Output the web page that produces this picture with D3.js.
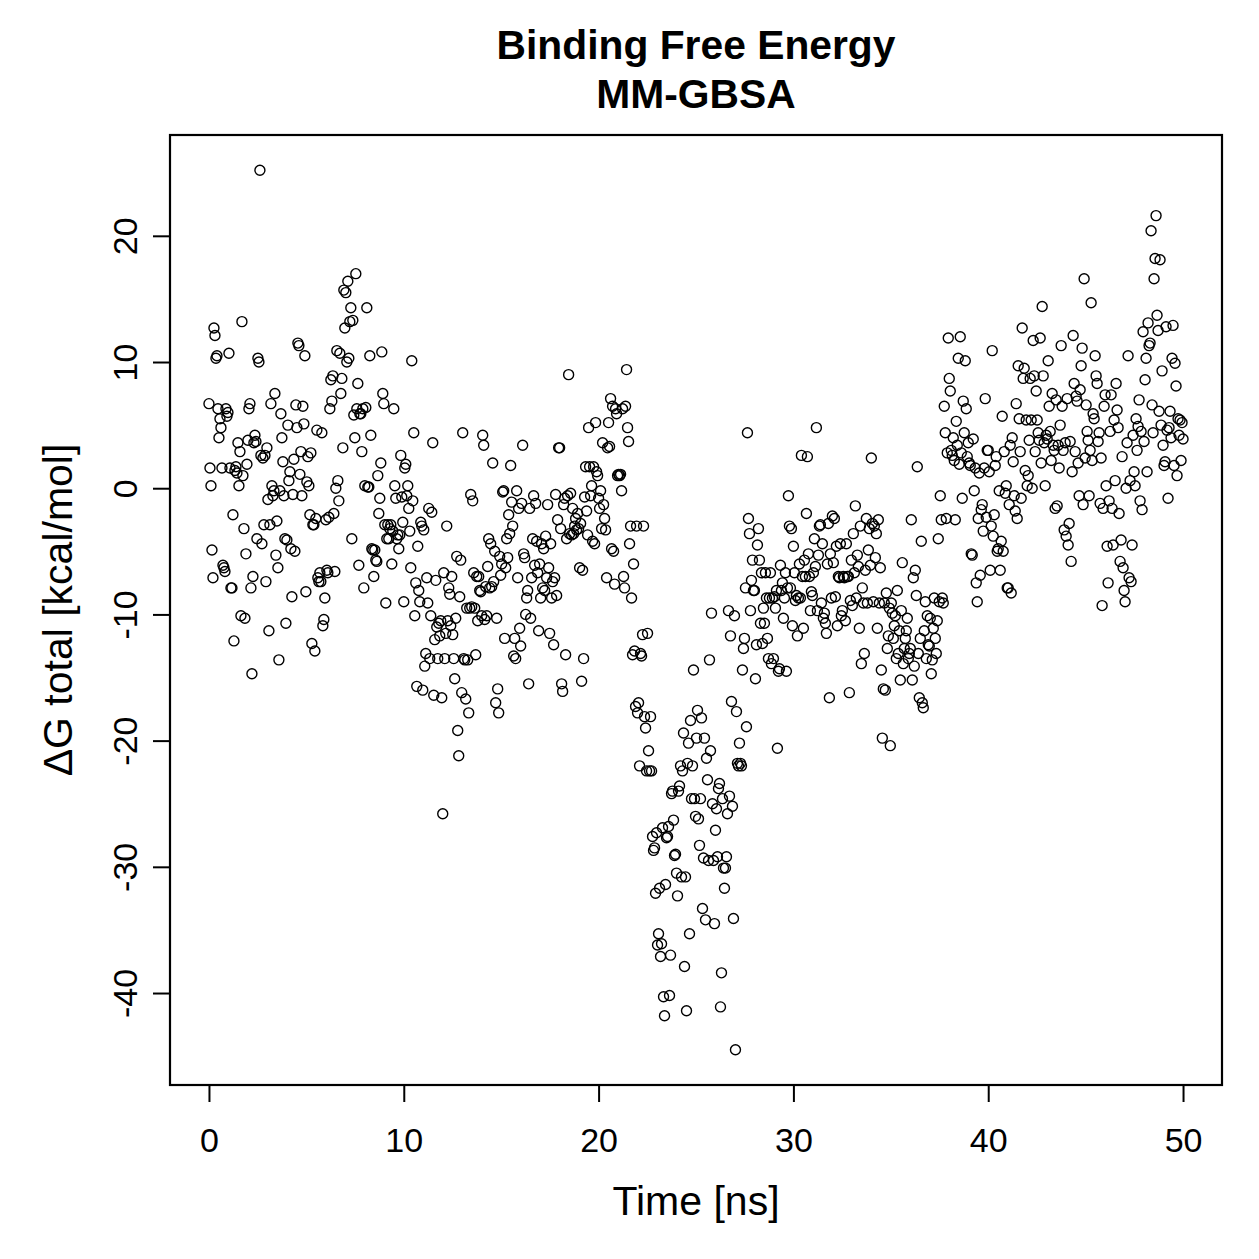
<!DOCTYPE html>
<html>
<head>
<meta charset="utf-8">
<script src="https://cdn.jsdelivr.net/npm/d3@7"></script>
<style>
  body { margin: 0; background: #fff; }
  text { font-family: "Liberation Sans", Arial, Helvetica, sans-serif; fill: #000; }
</style>
</head>
<body>
<svg id="chart" width="1259" height="1259"></svg>
<script>
// Chart text
let titleLines = ['Binding Free Energy', 'MM-GBSA'];
let xLabel = 'Time [ns]';
let yLabel = '\u0394G total [kcal/mol]';
let xTicks = [0, 10, 20, 30, 40, 50];
let yTicks = [-40, -30, -20, -10, 0, 10, 20];

// Simulation time window (ns), frames are evenly spaced over it
let timeStart = 0;
let timeEnd = 50;

// Delta G total per frame (kcal/mol), in time order
let dG = [
  6.7, 1.6, 0.2, -4.9, -7.1, 12.7, 12.1, 10.3, 10.5, 6.3, 4.0, 5.5, 4.8, 1.6, -6.1, -6.3, -6.6, 6.3, 5.7, 6.0,
  10.7, 1.6, -7.9, -7.9, -2.1, -12.1, 1.4, 1.7, 1.2, 3.6, 0.2, 2.9, -10.1, 13.2, 1.0, -3.2, -10.3, -5.2, 1.9, 3.8,
  6.3, 6.7, -7.9, -14.7, -7.0, 3.6, 4.2, 3.7, -4.0, 10.3, 10.0, 25.2, 2.6, -4.4, 2.4, -2.9, 2.6, -7.4, 3.2, -0.9,
  -11.3, -2.9, 6.7, 0.2, -0.6, -0.2, 7.5, -5.3, -2.6, -6.3, -13.6, -0.2, 5.9, 4.0, 2.1, -0.6, -4.0, -10.7, -4.1, 5.0,
  0.6, 1.3, -4.8, -8.6, -0.5, 2.3, -5.0, 6.6, 4.8, 11.5, 11.3, 1.1, 2.9, -0.6, 6.5, 5.1, 10.5, -8.2, 0.5, 2.5,
  0.2, -2.1, 2.8, -12.3, -2.9, -2.9, -12.9, -2.4, 4.6, -7.1, -7.4, -6.7, -7.4, 4.4, -10.9, -10.4, -8.7, -2.5, -6.5, -6.7,
  -2.3, 6.3, 8.6, 6.9, 8.9, -2.0, -6.6, 0.0, 10.9, 0.6, -1.0, 10.7, 7.5, 8.7, 3.2, 15.7, 12.7, 15.5, 10.0, 16.4,
  10.3, 13.2, 14.3, -4.0, 13.3, 5.8, 4.0, 17.0, 6.3, 8.3, -6.1, 5.9, 5.9, 2.9, 6.3, -7.9, 0.2, 6.4, 14.3, 0.1,
  0.1, 10.5, 4.2, -4.8, -4.9, -7.0, -4.9, -5.7, -5.8, 1.0, -2.0, -0.8, 2.0, 10.8, 7.5, 6.7, -2.9, -9.1, -4.0, -2.9,
  -4.0, -3.2, -2.9, -6.0, -3.4, 6.3, 0.2, -0.8, -4.0, -3.7, -4.8, -3.7, 2.6, -0.7, -2.7, -9.0, 1.6, 1.9, -0.6, 0.2,
  -1.6, -3.4, -6.3, 10.1, -1.0, 4.4, -10.1, -7.5, -15.7, -4.6, -8.1, -9.0, -2.7, -3.0, -16.0, -3.3, -14.1, -13.1, -7.1, -9.1,
  -1.6, -13.5, -10.1, -1.9, 3.6, -16.4, -12.0, -7.3, -11.0, -13.5, -10.7, -11.7, -10.5, -16.6, -25.8, -6.7, -13.5, -11.5, -3.0, -10.5,
  -7.9, -8.4, -10.9, -7.0, -11.6, -13.5, -15.1, -10.3, -5.4, -19.2, -21.2, -8.6, -5.7, -16.2, 4.4, -13.5, -13.6, -16.7, -9.5, -13.6,
  -17.8, -9.5, -0.5, -9.4, -1.0, -6.7, -9.5, -13.2, -7.0, -10.5, -7.0, -8.1, -8.2, -10.1, 4.2, 3.4, -10.4, -7.8, -10.1, -6.2,
  -4.0, -7.9, -4.4, -7.8, 2.0, -7.4, -5.0, -17.0, -10.3, -15.9, -17.8, -5.4, -6.9, -6.0, -0.3, -0.2, -11.9, -6.3, -4.0, -5.5,
  -2.1, -3.6, 1.8, -1.1, -3.0, -13.3, -11.9, -13.5, -0.2, -7.1, -1.6, -11.1, -12.5, -1.2, 3.4, -5.2, -5.5, -10.0, -8.7, -8.1,
  -15.5, -1.6, -10.3, -7.1, -4.0, -0.6, -6.1, -1.2, -4.2, -6.7, -11.3, -6.0, -8.7, -4.4, -7.9, -4.8, -8.1, -3.8, -7.1, -1.3,
  -6.3, -11.5, -4.4, -8.7, -7.4, -12.4, -7.1, -0.5, -8.5, -2.5, 3.2, 3.2, -3.2, -15.5, -16.1, -1.3, -0.8, -13.2, -4.0, -0.6,
  9.0, -3.6, -0.4, -3.7, -1.6, -3.6, -3.0, -2.4, -3.3, -2.0, -3.2, -6.3, -2.8, -15.3, -6.5, -13.5, -0.7, 1.7, -1.8, -3.7,
  4.8, 1.7, -0.6, 0.2, -4.2, 1.7, -4.4, 5.2, 1.3, 1.0, -0.8, -1.6, -0.2, -3.2, 3.6, -1.3, -2.4, -3.3, -7.1, 3.2,
  5.2, 3.3, 7.1, -4.8, 6.5, -5.0, -7.6, 6.3, 5.9, 1.0, 1.1, 1.0, 1.1, -0.2, 6.3, -7.0, -7.9, 6.5, 9.4, 4.8,
  3.7, -4.4, -3.0, -8.7, -13.2, -6.0, -12.9, -17.3, -3.0, -17.8, -17.0, -22.0, -13.1, -13.3, -11.6, -3.0, -18.1, -19.0, -22.4, -11.5,
  -20.8, -22.4, -18.1, -22.4, -27.6, -28.7, -28.5, -32.1, -27.3, -36.2, -35.3, -31.7, -37.1, -36.1, -26.9, -40.3, -41.8, -31.4, -27.7, -27.6,
  -26.8, -40.2, -37.0, -24.2, -24.0, -26.3, -29.1, -29.0, -30.5, -32.3, -24.0, -23.6, -22.0, -30.8, -22.4, -19.4, -37.9, -30.8, -41.4, -21.8,
  -20.2, -35.3, -18.4, -24.6, -22.0, -14.4, -24.6, -26.0, -19.8, -17.6, -26.2, -28.3, -24.6, -18.2, -33.3, -29.3, -19.8, -34.2, -21.4, -23.1,
  -29.5, -13.6, -20.8, -9.9, -25.0, -29.5, -34.5, -27.1, -25.4, -29.2, -23.8, -23.4, -41.1, -38.4, -24.6, -30.1, -31.7, -30.1, -29.2, -25.8,
  -9.7, -24.4, -11.7, -16.9, -25.2, -34.1, -10.1, -44.5, -17.7, -21.8, -22.0, -20.2, -21.8, -22.0, -14.4, -12.7, -11.9, -7.9, -18.9, 4.4,
  -2.4, -3.6, -9.7, -7.3, -5.7, -8.1, -8.1, -15.1, -12.4, -4.5, -3.2, -5.7, -10.7, -6.7, -12.3, -9.5, -10.7, -6.7, -8.7, -11.9,
  -13.5, -8.7, -6.7, -13.9, -8.7, -13.5, -8.6, -9.5, -8.1, -20.6, -14.5, -14.3, -6.1, -8.1, -7.5, -10.3, -8.7, -6.7, -14.5, -7.9,
  -0.6, -3.0, -7.9, -3.2, -10.9, -4.6, -6.7, -8.9, -8.5, -11.7, -8.7, -6.0, -8.7, 2.6, -7.0, -11.1, -5.7, -7.0, -2.0, 2.5,
  -5.2, -7.0, -9.7, -8.2, -8.5, -6.7, -4.0, -6.2, 4.8, -9.7, -5.3, -3.0, -2.9, -9.1, -4.4, -10.3, -9.9, -10.7, -11.5, -6.0,
  -2.8, -16.6, -5.2, -8.7, -2.2, -5.9, -2.4, -8.6, -4.6, -10.9, -7.0, -7.1, -4.4, -10.1, -9.7, -7.0, -7.1, -10.5, -4.4, -7.0,
  -7.0, -16.2, -8.9, -5.7, -9.3, -3.6, -6.7, -1.4, -8.7, -5.3, -6.2, -11.1, -3.0, -13.9, -7.9, -9.1, -13.1, -6.5, -2.4, -9.1,
  -4.9, -3.2, -6.1, 2.4, -2.8, -9.0, -3.0, -5.5, -3.6, -11.1, -2.5, -9.1, -6.3, -14.4, -19.8, -15.9, -9.1, -16.0, -8.3, -12.7,
  -11.7, -9.5, -20.4, -9.1, -9.9, -11.9, -10.9, -10.1, -13.5, -8.1, -13.1, -11.3, -15.2, -9.7, -5.9, -13.9, -12.7, -11.9, -11.3, -10.3,
  -13.5, -13.1, -12.7, -2.5, -15.2, -7.1, -14.1, -6.5, -8.5, 1.7, -13.1, -16.6, -11.9, -4.2, -17.0, -17.4, -11.3, -9.0, -13.5, -10.1,
  -12.4, -12.5, -10.3, -14.7, -13.6, -11.1, -8.7, -11.9, -13.1, -10.5, -4.0, -9.0, -0.6, -2.5, -8.7, -9.1, 6.5, 4.4, -2.4, 2.8,
  11.9, 8.7, 7.7, 3.0, 2.6, 4.0, 2.2, -2.5, 5.3, 3.4, 10.3, 1.9, 12.0, 2.8, -0.8, 6.9, 4.4, 10.1, 6.3, 2.5,
  3.6, 2.0, 1.8, -5.2, -5.3, 3.9, -0.2, 1.6, -7.5, -9.0, -2.4, 1.2, -6.9, -1.7, -1.3, -3.4, 1.6, 7.1, -2.3, 3.0,
  3.0, 1.3, -6.5, -3.0, 10.9, -3.8, -2.1, 1.8, 2.5, -5.0, -4.8, -0.2, -6.5, -4.2, 5.7, -5.0, 2.9, -0.4, 0.2, -7.9,
  -7.9, -1.3, 3.4, -8.3, 4.0, 2.1, -0.6, -1.8, 6.7, -2.4, 9.7, 5.5, 2.9, -0.8, 12.7, 8.7, 9.5, 1.4, 5.4, 0.2,
  1.0, 3.8, 8.7, 5.4, 0.0, 11.7, 8.9, 2.9, 7.7, 5.4, 4.4, 3.8, 11.9, 2.0, 14.4, 8.9, 3.6, 0.2, 4.2, 3.9,
  10.1, 6.5, 4.5, 2.2, 7.5, 3.4, 3.0, -1.6, 7.0, -1.4, 3.4, 1.6, 5.0, 11.3, 6.5, 3.0, -3.3, 3.6, -3.8, 7.1,
  -4.5, -2.8, 3.7, -5.8, 1.3, 12.1, 8.3, 2.9, 7.3, 6.9, 2.0, -0.6, 7.8, 9.7, 11.1, -1.3, 16.6, 2.4, 6.6, 4.5,
  3.8, -0.6, 3.0, 14.7, 2.2, 5.9, 5.5, 10.5, 8.9, 8.3, 3.7, 4.4, -1.2, 2.4, -9.3, -1.6, 6.5, 7.4, 0.2, -4.6,
  -7.5, -1.0, 4.5, 7.4, -1.6, -4.5, 5.4, 0.6, 8.3, 6.2, 4.8, -2.0, -5.8, -4.1, 2.5, -6.3, -8.1, -9.0, 0.0, 3.6,
  10.5, -7.1, 0.6, -7.4, -4.5, 4.2, 1.3, 0.2, 5.5, 3.0, 4.9, 7.0, -1.0, 4.5, -1.7, 12.4, 3.7, 8.6, 10.3, 1.3,
  13.1, 11.3, 11.5, 20.4, 6.6, 4.4, 16.6, 18.2, 21.6, 13.7, 12.5, 6.1, 18.1, 5.0, 9.3, 3.4, 1.8, 2.1, 12.8, 4.6,
  -0.8, 4.8, 6.1, 4.0, 10.3, 12.9, 1.8, 9.9, 8.1, 1.0, 5.5, 4.2, 5.4, 2.2, 5.2, 3.9
];

function make_scatter(){
    let PLOT_LEFT = 170;
    let PLOT_RIGHT = 1222;
    let PLOT_TOP = 135;
    let PLOT_BOTTOM = 1085;
    let FONT = 34;
    let LAB_FONT = 41;
    let TICK = 17;

    let svg = d3.select('#chart');

    // frame times, one per value
    let step = (timeEnd - timeStart) / (dG.length - 1);
    let points = dG.map((v, i) => ({time: timeStart + i * step, dG: v}));

    // R style axis ranges: data extent padded by 4% on each side
    let xExt = d3.extent(points, d => d.time);
    let yExt = d3.extent(points, d => d.dG);
    let xPad = (xExt[1] - xExt[0]) * 0.04;
    let yPad = (yExt[1] - yExt[0]) * 0.04;

    let xScale = d3.scaleLinear()
        .domain([xExt[0] - xPad, xExt[1] + xPad])
        .range([PLOT_LEFT, PLOT_RIGHT]);

    let yScale = d3.scaleLinear()
        .domain([yExt[0] - yPad, yExt[1] + yPad])
        .range([PLOT_BOTTOM, PLOT_TOP]);

    let fmt = d => d3.format('d')(d).replace('\u2212', '-');

    // the open circle markers
    svg.append('g')
        .attr('id', 'points')
        .selectAll('circle')
        .data(points)
        .join('circle')
        .attr('cx', d => xScale(d.time))
        .attr('cy', d => yScale(d.dG))
        .attr('r', 5)
        .attr('fill', 'none')
        .attr('stroke', 'black')
        .attr('stroke-width', 1.4);

    // x axis ticks
    let xAxis = svg.append('g')
        .attr('transform', `translate(0,${PLOT_BOTTOM})`)
        .call(d3.axisBottom(xScale).tickValues(xTicks).tickSize(TICK).tickFormat(fmt));
    xAxis.select('.domain').remove();
    xAxis.selectAll('line').attr('stroke', 'black').attr('stroke-width', 2);
    xAxis.selectAll('text')
        .attr('font-size', FONT)
        .attr('font-family', '"Liberation Sans", Arial, sans-serif')
        .attr('dy', null)
        .attr('y', 67);

    // y axis ticks, labels turned like R does
    let yAxis = svg.append('g')
        .attr('transform', `translate(${PLOT_LEFT},0)`)
        .call(d3.axisLeft(yScale).tickValues(yTicks).tickSize(TICK).tickFormat(fmt));
    yAxis.select('.domain').remove();
    yAxis.selectAll('line').attr('stroke', 'black').attr('stroke-width', 2);
    yAxis.selectAll('text')
        .attr('font-size', FONT)
        .attr('font-family', '"Liberation Sans", Arial, sans-serif')
        .attr('text-anchor', 'middle')
        .attr('x', null)
        .attr('dy', null)
        .attr('transform', 'translate(-33,0) rotate(-90)');

    // plot box
    svg.append('rect')
        .attr('x', PLOT_LEFT)
        .attr('y', PLOT_TOP)
        .attr('width', PLOT_RIGHT - PLOT_LEFT)
        .attr('height', PLOT_BOTTOM - PLOT_TOP)
        .attr('fill', 'none')
        .attr('stroke', 'black')
        .attr('stroke-width', 2.2);

    let midX = (PLOT_LEFT + PLOT_RIGHT) / 2;
    let midY = (PLOT_TOP + PLOT_BOTTOM) / 2;

    // title
    svg.append('g')
        .selectAll('text')
        .data(titleLines)
        .join('text')
        .text(d => d)
        .attr('x', midX)
        .attr('y', (d, i) => 59 + i * 49)
        .attr('text-anchor', 'middle')
        .attr('font-weight', 'bold')
        .attr('font-size', 40.8);

    // axis labels
    svg.append('text')
        .text(xLabel)
        .attr('x', midX)
        .attr('y', 1215)
        .attr('text-anchor', 'middle')
        .attr('font-size', LAB_FONT);

    svg.append('text')
        .text(yLabel)
        .attr('transform', `translate(72,${midY}) rotate(-90)`)
        .attr('text-anchor', 'middle')
        .attr('font-size', LAB_FONT);
}

make_scatter();
</script>
</body>
</html>
